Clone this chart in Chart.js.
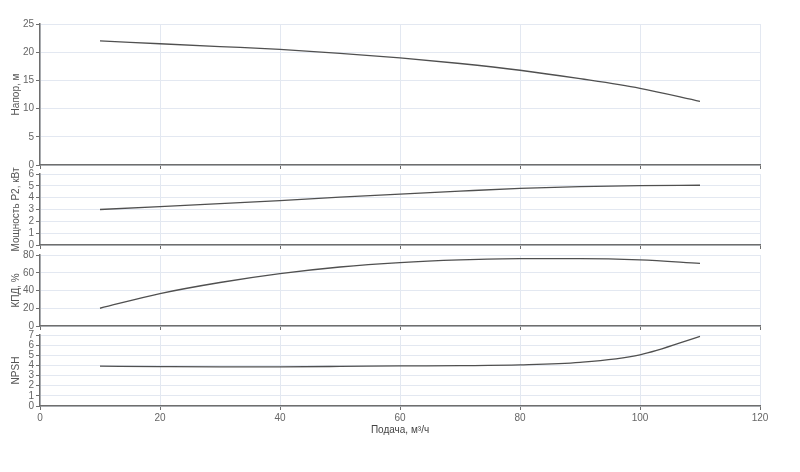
<!DOCTYPE html>
<html>
<head>
<meta charset="utf-8">
<script src="https://cdn.jsdelivr.net/npm/chart.js@4.4.0/dist/chart.umd.min.js"></script>
<style>
  html, body { margin: 0; padding: 0; background: #fff; }
  #wrap { position: relative; width: 800px; height: 472px; overflow: hidden; }
  #wrap canvas { position: absolute; left: 0; }
</style>
</head>
<body>
<div id="wrap">
  <canvas id="c1"></canvas>
  <canvas id="c2"></canvas>
  <canvas id="c3"></canvas>
  <canvas id="c4"></canvas>
</div>
<script>
// ---- data ----
const flow = [10, 20, 30, 40, 50, 60, 70, 80, 90, 100, 110];
const head = [22.0, 21.5, 21.0, 20.5, 19.8, 19.0, 18.0, 16.8, 15.3, 13.6, 11.3];
const power = [3.0, 3.25, 3.5, 3.75, 4.05, 4.3, 4.55, 4.78, 4.93, 5.02, 5.05];
const efficiency = [20, 36.5, 49, 59, 66.5, 71.5, 74.5, 76, 76, 74.5, 70.5];
const npsh = [3.93, 3.88, 3.85, 3.86, 3.9, 3.95, 3.98, 4.05, 4.3, 5.05, 6.87];

const xTicks = [0, 20, 40, 60, 80, 100, 120];
const xTitle = 'Подача, м³/ч';
const panels = [
  { id: 'c1', title: 'Напор, м', values: head, max: 25, step: 5, top: 14, area: 141, bottomAxis: false },
  { id: 'c2', title: 'Мощность P2, кВт', values: power, max: 6, step: 1, top: 164, area: 71, bottomAxis: false },
  { id: 'c3', title: 'КПД, %', values: efficiency, max: 80, step: 20, top: 245, area: 71, bottomAxis: false },
  { id: 'c4', title: 'NPSH', values: npsh, max: 7, step: 1, top: 325, area: 71, bottomAxis: true }
];

Chart.defaults.font.family = "'Liberation Sans', Arial, sans-serif";
Chart.defaults.font.size = 10;
Chart.defaults.color = '#666';

const GRID = '#e3e8f1';
const AXIS = '#6e6e6e';
const PAD_TOP = 10;

panels.forEach(p => {
  const xAxisH = p.bottomAxis ? 35 : 8;
  const cv = document.getElementById(p.id);
  const h = PAD_TOP + p.area + xAxisH;
  cv.width = 800; cv.height = h;
  cv.style.top = p.top + 'px';
  cv.style.width = '800px'; cv.style.height = h + 'px';

  new Chart(cv, {
    type: 'line',
    data: {
      datasets: [{
        data: flow.map((x, i) => ({ x: x, y: p.values[i] })),
        borderColor: '#505050',
        borderWidth: 1.3,
        pointRadius: 0,
        cubicInterpolationMode: 'monotone',
        fill: false
      }]
    },
    options: {
      responsive: false,
      animation: false,
      devicePixelRatio: 1,
      layout: { padding: { top: PAD_TOP, right: 40, left: 0, bottom: 0 } },
      plugins: { legend: { display: false }, tooltip: { enabled: false } },
      scales: {
        x: {
          type: 'linear',
          min: 0, max: 120,
          afterBuildTicks: s => { s.ticks = xTicks.map(v => ({ value: v })); },
          afterFit: s => { s.height = xAxisH; },
          grid: { color: GRID, tickColor: AXIS, tickLength: 4, drawTicks: true },
          border: { color: AXIS, width: 1.5 },
          ticks: {
            autoSkip: false,
            maxRotation: 0,
            padding: 2,
            color: '#666',
            callback: v => p.bottomAxis ? String(v) : ''
          },
          title: {
            display: p.bottomAxis,
            text: xTitle,
            color: '#444',
            padding: { top: 0, bottom: 5 }
          }
        },
        y: {
          min: 0, max: p.max,
          afterFit: s => { s.width = 40; },
          grid: { color: GRID, tickColor: AXIS, tickLength: 4 },
          border: { color: AXIS, width: 1.5 },
          ticks: { stepSize: p.step, autoSkip: false, padding: 2, color: '#666' },
          title: {
            display: true,
            text: p.title,
            color: '#555',
            padding: { top: 10, bottom: 0 }
          }
        }
      }
    }
  });
});
</script>
</body>
</html>
